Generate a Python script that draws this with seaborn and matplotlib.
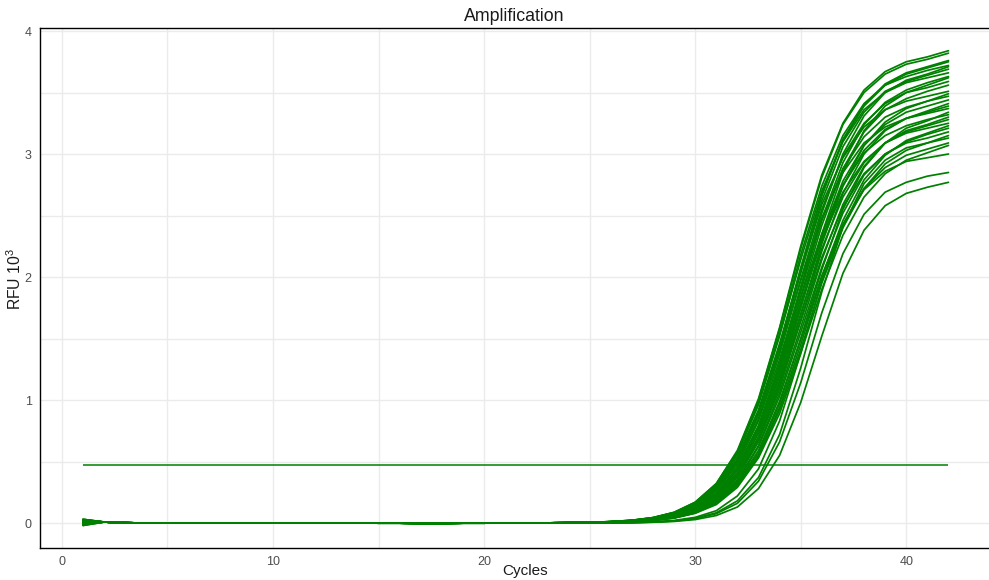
import matplotlib
matplotlib.use("Agg")
import matplotlib.pyplot as plt
from matplotlib.ticker import MultipleLocator
import seaborn as sns
import pandas as pd


# Amplification curves (RFU in thousands)
cycles = list(range(1, 43))
threshold = 0.47

# shared flat baseline, cycles 2..25
baseline = [0.008, 0.002, 0.0, 0.0, 0.0, 0.0, 0.0, 0.0, 0.0, 0.0, 0.0, 0.0,
            0.0, -0.001, -0.001, -0.002, -0.002, -0.001, -0.001, 0.0, 0.0,
            0.001, 0.002, 0.004]

# value at cycle 1, one per well
start_values = [0.03, 0.02, 0.01, 0.025, -0.01, 0.0, 0.015, 0.02, -0.02, 0.01,
                0.005, 0.03, -0.015, 0.0, 0.02, 0.01, 0.025, -0.005, 0.015, 0.0,
                0.01, 0.02, -0.01, 0.03, 0.005, 0.015, -0.02, 0.01, 0.02, 0.0,
                0.025, -0.01, 0.015, 0.005]

# cycles 26..42, one list per well
tail_curves = [
    [0.012, 0.022, 0.044, 0.087, 0.169, 0.32, 0.59, 1.01, 1.59, 2.25, 2.83, 3.25, 3.52, 3.67, 3.75, 3.79, 3.84],
    [0.012, 0.022, 0.044, 0.086, 0.168, 0.32, 0.58, 1.00, 1.58, 2.23, 2.81, 3.24, 3.50, 3.65, 3.73, 3.77, 3.82],
    [0.011, 0.022, 0.043, 0.084, 0.163, 0.31, 0.57, 0.98, 1.54, 2.18, 2.74, 3.15, 3.41, 3.56, 3.63, 3.68, 3.72],
    [0.011, 0.021, 0.042, 0.083, 0.161, 0.30, 0.56, 0.96, 1.52, 2.14, 2.70, 3.10, 3.36, 3.50, 3.58, 3.62, 3.66],
    [0.011, 0.020, 0.040, 0.079, 0.154, 0.29, 0.54, 0.92, 1.46, 2.05, 2.59, 2.97, 3.22, 3.36, 3.43, 3.47, 3.51],
    [0.010, 0.020, 0.039, 0.076, 0.148, 0.28, 0.52, 0.89, 1.40, 1.97, 2.48, 2.85, 3.09, 3.22, 3.29, 3.33, 3.37],
    [0.010, 0.019, 0.038, 0.074, 0.144, 0.28, 0.51, 0.90, 1.44, 2.07, 2.67, 3.12, 3.40, 3.57, 3.66, 3.71, 3.76],
    [0.010, 0.019, 0.038, 0.074, 0.144, 0.28, 0.51, 0.89, 1.43, 2.07, 2.66, 3.11, 3.39, 3.56, 3.65, 3.70, 3.75],
    [0.010, 0.019, 0.037, 0.073, 0.142, 0.27, 0.50, 0.88, 1.41, 2.03, 2.62, 3.06, 3.34, 3.51, 3.59, 3.64, 3.69],
    [0.009, 0.018, 0.036, 0.071, 0.138, 0.26, 0.49, 0.85, 1.37, 1.98, 2.55, 2.98, 3.25, 3.41, 3.50, 3.54, 3.59],
    [0.009, 0.018, 0.035, 0.069, 0.133, 0.26, 0.47, 0.83, 1.33, 1.91, 2.46, 2.88, 3.14, 3.30, 3.38, 3.43, 3.47],
    [0.009, 0.017, 0.034, 0.066, 0.128, 0.24, 0.45, 0.79, 1.27, 1.83, 2.35, 2.75, 3.01, 3.15, 3.23, 3.28, 3.32],
    [0.009, 0.017, 0.033, 0.064, 0.125, 0.24, 0.44, 0.77, 1.24, 1.79, 2.30, 2.69, 2.94, 3.09, 3.17, 3.21, 3.25],
    [0.008, 0.017, 0.033, 0.064, 0.125, 0.24, 0.45, 0.79, 1.30, 1.92, 2.52, 3.00, 3.31, 3.50, 3.60, 3.65, 3.71],
    [0.008, 0.016, 0.032, 0.063, 0.122, 0.24, 0.44, 0.78, 1.27, 1.88, 2.47, 2.93, 3.24, 3.42, 3.52, 3.58, 3.63],
    [0.008, 0.016, 0.031, 0.062, 0.120, 0.23, 0.43, 0.76, 1.25, 1.84, 2.42, 2.88, 3.18, 3.36, 3.45, 3.51, 3.56],
    [0.008, 0.016, 0.030, 0.060, 0.116, 0.22, 0.41, 0.74, 1.21, 1.78, 2.34, 2.78, 3.07, 3.24, 3.34, 3.39, 3.44],
    [0.008, 0.015, 0.030, 0.059, 0.114, 0.22, 0.41, 0.73, 1.19, 1.75, 2.31, 2.74, 3.03, 3.20, 3.29, 3.34, 3.39],
    [0.007, 0.015, 0.029, 0.057, 0.110, 0.21, 0.39, 0.70, 1.15, 1.70, 2.23, 2.65, 2.93, 3.09, 3.18, 3.23, 3.28],
    [0.007, 0.014, 0.028, 0.055, 0.107, 0.21, 0.38, 0.68, 1.12, 1.64, 2.16, 2.57, 2.84, 3.00, 3.09, 3.13, 3.18],
    [0.007, 0.014, 0.028, 0.055, 0.107, 0.21, 0.39, 0.70, 1.16, 1.75, 2.35, 2.85, 3.19, 3.39, 3.50, 3.56, 3.62],
    [0.007, 0.014, 0.027, 0.053, 0.103, 0.20, 0.37, 0.67, 1.12, 1.69, 2.27, 2.74, 3.07, 3.26, 3.37, 3.43, 3.49],
    [0.007, 0.013, 0.026, 0.052, 0.101, 0.19, 0.37, 0.66, 1.09, 1.65, 2.21, 2.68, 3.00, 3.19, 3.29, 3.35, 3.41],
    [0.007, 0.013, 0.025, 0.050, 0.098, 0.19, 0.35, 0.63, 1.06, 1.59, 2.14, 2.59, 2.90, 3.09, 3.19, 3.24, 3.30],
    [0.006, 0.013, 0.025, 0.049, 0.095, 0.18, 0.34, 0.62, 1.03, 1.55, 2.08, 2.52, 2.83, 3.00, 3.10, 3.16, 3.21],
    [0.006, 0.012, 0.024, 0.047, 0.092, 0.18, 0.33, 0.59, 0.99, 1.49, 2.01, 2.43, 2.72, 2.89, 2.99, 3.04, 3.09],
    [0.006, 0.011, 0.022, 0.044, 0.086, 0.17, 0.32, 0.57, 0.97, 1.50, 2.06, 2.55, 2.89, 3.09, 3.21, 3.27, 3.34],
    [0.006, 0.011, 0.022, 0.042, 0.083, 0.16, 0.31, 0.55, 0.94, 1.45, 2.00, 2.46, 2.79, 2.99, 3.11, 3.17, 3.23],
    [0.005, 0.011, 0.021, 0.041, 0.081, 0.16, 0.30, 0.54, 0.92, 1.41, 1.95, 2.40, 2.72, 2.92, 3.03, 3.09, 3.15],
    [0.005, 0.010, 0.021, 0.040, 0.079, 0.15, 0.29, 0.53, 0.89, 1.38, 1.90, 2.34, 2.65, 2.84, 2.95, 3.01, 3.07],
    [0.002, 0.004, 0.009, 0.021, 0.046, 0.10, 0.22, 0.44, 0.83, 1.38, 1.97, 2.42, 2.71, 2.86, 2.94, 2.97, 3.00],
    [0.002, 0.003, 0.008, 0.017, 0.038, 0.083, 0.18, 0.37, 0.72, 1.26, 1.88, 2.41, 2.76, 2.95, 3.05, 3.09, 3.13],
    [0.001, 0.003, 0.007, 0.016, 0.035, 0.076, 0.16, 0.34, 0.66, 1.14, 1.71, 2.19, 2.51, 2.69, 2.77, 2.82, 2.85],
    [0.001, 0.003, 0.006, 0.013, 0.028, 0.061, 0.13, 0.28, 0.55, 0.98, 1.52, 2.03, 2.38, 2.58, 2.68, 2.73, 2.77],
]

# long format table for seaborn
rows = []
for well, (start, tail) in enumerate(zip(start_values, tail_curves)):
    values = [start] + baseline + tail
    for cycle, rfu in zip(cycles, values):
        rows.append({"well": well, "cycle": cycle, "rfu": rfu})
df = pd.DataFrame(rows)

sns.set_theme(style="white")
plt.rcParams["font.family"] = ["Liberation Sans", "DejaVu Sans"]
plt.rcParams["mathtext.fontset"] = "custom"
plt.rcParams["mathtext.rm"] = "Liberation Sans"

fig = plt.figure(figsize=(9.89, 5.80), dpi=100)
ax = fig.add_axes([0.0404, 0.0552, 0.9596, 0.8966])

line_color = "#008000"
sns.lineplot(data=df, x="cycle", y="rfu", units="well", estimator=None,
             color=line_color, linewidth=1.25, ax=ax, legend=False)
ax.hlines(threshold, cycles[0], cycles[-1], color=line_color, linewidth=1.1)

# axis limits, grid
ax.set_xlim(-1.04, 43.92)
ax.set_ylim(-0.203, 4.025)
ax.xaxis.set_major_locator(MultipleLocator(10))
ax.xaxis.set_minor_locator(MultipleLocator(5))
ax.yaxis.set_major_locator(MultipleLocator(1))
ax.yaxis.set_minor_locator(MultipleLocator(0.5))
ax.grid(which="both", color="#ebebeb", linewidth=1.0)
ax.set_axisbelow(True)

for side in ["left", "top", "bottom"]:
    ax.spines[side].set_visible(True)
    ax.spines[side].set_color("black")
    ax.spines[side].set_linewidth(1.0)
ax.spines["right"].set_visible(False)

ax.tick_params(which="both", length=0, labelsize=9, labelcolor="#4d4d4d", pad=6)

ax.set_title("Amplification", fontsize=12.8, pad=5, color="#1a1a1a")
ax.set_xlabel("Cycles", fontsize=11, color="#1a1a1a")
ax.xaxis.label.set_va("baseline")
ax.xaxis.set_label_coords(0.511, -0.052)
ax.set_ylabel(r"RFU $\mathrm{10^3}$", fontsize=11.3, color="#1a1a1a")
ax.yaxis.label.set_va("center")
ax.yaxis.set_label_coords(-0.027, 0.517)

fig.savefig("out.png", dpi=100)
